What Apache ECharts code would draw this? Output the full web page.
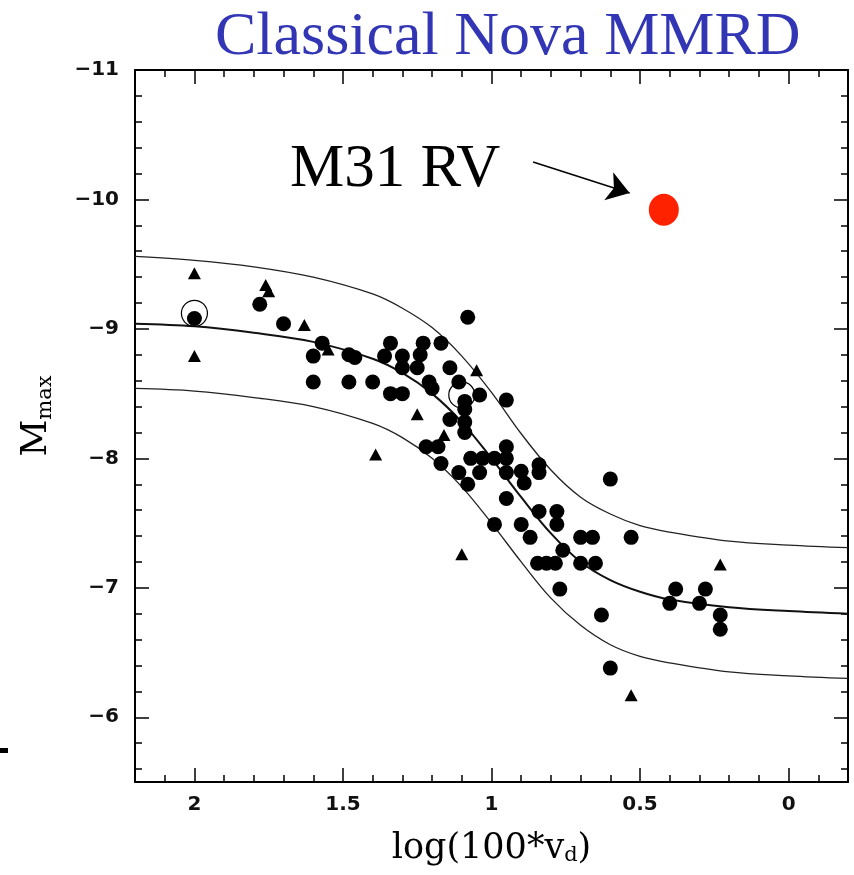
<!DOCTYPE html>
<html><head><meta charset="utf-8">
<script src="https://cdn.jsdelivr.net/npm/echarts@6/dist/echarts.min.js"></script>
<style>html,body{margin:0;padding:0;background:#fff}#c{width:854px;height:875px}</style>
</head><body><div id="c"></div>
<script>
// ---- data ----
const curveX  = [2.2, 2.0, 1.8, 1.6, 1.4, 1.3, 1.2, 1.1, 1.0, 0.9, 0.8, 0.7, 0.6, 0.5, 0.4, 0.2, 0.0, -0.2];
const upperY  = [-9.56,-9.53,-9.48,-9.40,-9.27,-9.16,-9.01,-8.79,-8.51,-8.19,-7.91,-7.70,-7.57,-7.48,-7.43,-7.36,-7.33,-7.31];
const middleY = [-9.04,-9.02,-8.97,-8.90,-8.77,-8.66,-8.50,-8.28,-8.00,-7.70,-7.42,-7.20,-7.06,-6.97,-6.91,-6.85,-6.82,-6.80];
const lowerY  = [-8.54,-8.52,-8.47,-8.40,-8.27,-8.16,-8.00,-7.78,-7.50,-7.20,-6.92,-6.71,-6.56,-6.47,-6.42,-6.35,-6.32,-6.30];

const novaCircles = [
  [2.00,-9.08],[1.78,-9.19],[1.70,-9.04],[1.57,-8.89],[1.60,-8.79],[1.60,-8.59],
  [1.48,-8.80],[1.46,-8.78],[1.48,-8.59],[1.40,-8.59],[1.36,-8.79],[1.34,-8.89],
  [1.30,-8.79],[1.30,-8.70],[1.34,-8.50],[1.30,-8.50],[1.24,-8.80],[1.23,-8.89],
  [1.17,-8.89],[1.25,-8.70],[1.21,-8.59],[1.20,-8.54],[1.14,-8.70],[1.11,-8.59],
  [1.08,-9.09],[1.04,-8.49],[0.95,-8.45],[1.09,-8.44],[1.09,-8.38],[1.14,-8.30],
  [1.09,-8.28],[1.09,-8.20],[1.22,-8.09],[1.18,-8.09],[1.17,-7.96],[1.11,-7.89],
  [1.08,-7.80],[1.07,-8.00],[1.03,-8.00],[0.99,-8.00],[1.04,-7.89],[0.95,-8.09],
  [0.95,-8.00],[0.95,-7.89],[0.90,-7.90],[0.89,-7.81],[0.95,-7.69],[0.84,-7.95],
  [0.84,-7.89],[0.84,-7.59],[0.78,-7.59],[0.78,-7.49],[0.99,-7.49],[0.90,-7.49],
  [0.87,-7.39],[0.76,-7.29],[0.845,-7.19],[0.815,-7.19],[0.785,-7.19],
  [0.70,-7.39],[0.66,-7.39],[0.70,-7.19],[0.65,-7.19],[0.60,-7.84],[0.53,-7.39],
  [0.77,-6.99],[0.63,-6.79],[0.60,-6.38],[0.38,-6.99],[0.28,-6.99],[0.40,-6.88],
  [0.30,-6.88],[0.23,-6.79],[0.23,-6.68]
];
const novaTriangles = [
  [2.00,-9.43],[2.00,-8.79],[1.76,-9.34],[1.75,-9.29],[1.63,-9.03],[1.55,-8.84],
  [1.39,-8.03],[1.25,-8.34],[1.16,-8.18],[1.05,-8.68],[1.10,-7.26],[0.53,-6.17],[0.23,-7.18]
];
const openCircles = [[2.00,-9.12],[1.10,-8.49]];
const m31rv = [[0.42,-9.92]];
const arrowFrom = [0.86,-10.29];
const arrowTo   = [0.535,-10.05];

const xTickValues = [2, 1.5, 1, 0.5, 0];
const xTickLabels = ['2', '1.5', '1', '0.5', '0'];
const yTickValues = [-11, -10, -9, -8, -7, -6];
const yTickLabels = ['\u221211', '\u221210', '\u22129', '\u22128', '\u22127', '\u22126'];

const titleText = 'Classical Nova MMRD';
const annotText = 'M31 RV';

// ---- chart ----
function lookup(vals, labels) {
  return function (v) {
    for (let i = 0; i < vals.length; i++) if (Math.abs(vals[i] - v) < 1e-6) return labels[i];
    return '';
  };
}
const pair = ys => curveX.map((x, i) => [x, ys[i]]);

const tickStyle = { color: '#000', width: 1.5 };
function xAx(pos, main) {
  return {
    type: 'value', position: pos, min: -0.2, max: 2.2, inverse: true,
    minInterval: 0.5, maxInterval: 0.5,
    axisLine: { show: true, onZero: false, lineStyle: { color: '#000', width: 2 } },
    axisTick: { show: true, inside: true, length: 14, lineStyle: tickStyle },
    minorTick: { show: true, splitNumber: 5, length: 7, lineStyle: tickStyle },
    splitLine: { show: false }, minorSplitLine: { show: false },
    axisLabel: main ? { show: true, formatter: lookup(xTickValues, xTickLabels), margin: 13,
      color: '#111', fontFamily: 'DejaVu Sans', fontWeight: 'bold', fontSize: 20,
      showMinLabel: false, showMaxLabel: false } : { show: false },
    name: main ? '{a|log(100*v}{s|d}{a|)}' : '',
    nameLocation: 'middle', nameGap: 47,
    nameTextStyle: { rich: {
      a: { fontFamily: 'DejaVu Serif', fontSize: 35, color: '#000', lineHeight: 40 },
      s: { fontFamily: 'DejaVu Serif', fontSize: 21, color: '#000', lineHeight: 40, padding: [14, 0, 0, 0] }
    } }
  };
}
function yAx(pos, main) {
  return {
    type: 'value', position: pos, min: -11, max: -5.5, inverse: true,
    minInterval: 1, maxInterval: 1,
    axisLine: { show: true, onZero: false, lineStyle: { color: '#000', width: 2 } },
    axisTick: { show: true, inside: true, length: 14, lineStyle: tickStyle },
    minorTick: { show: true, splitNumber: 5, length: 7, lineStyle: tickStyle },
    splitLine: { show: false }, minorSplitLine: { show: false },
    axisLabel: main ? { show: true, formatter: lookup(yTickValues, yTickLabels), margin: 16,
      color: '#111', fontFamily: 'DejaVu Sans', fontWeight: 'bold', fontSize: 20,
      showMinLabel: true, showMaxLabel: false } : { show: false },
    name: main ? '{m|M}{s|max}' : '',
    nameLocation: 'middle', nameGap: 76, nameRotate: 90,
    nameTextStyle: { padding: [0, 0, 0, 20], rich: {
      m: { fontFamily: 'DejaVu Serif', fontSize: 36, color: '#000', lineHeight: 44 },
      s: { fontFamily: 'DejaVu Serif', fontSize: 21, color: '#000', lineHeight: 44, padding: [18, 0, 0, 0] }
    } }
  };
}

const chart = echarts.init(document.getElementById('c'), null, { renderer: 'canvas' });
chart.setOption({
  animation: false,
  backgroundColor: '#fff',
  grid: { left: 135, right: 6, top: 70, bottom: 93, containLabel: false },
  xAxis: [xAx('bottom', true), xAx('top', false)],
  yAxis: [yAx('left', true), yAx('right', false)],
  graphic: [
    { type: 'text', left: 215, top: 7, z: 10,
      style: { text: titleText, font: '62px "Liberation Serif"', fill: '#3236b4' } },
    { type: 'text', left: 290, top: 139, z: 10,
      style: { text: annotText, font: '61px "Liberation Serif"', fill: '#000' } },
    { type: 'rect', left: 0, top: 748, shape: { width: 8, height: 5 }, style: { fill: '#000' } }
  ],
  series: [
    { type: 'line', data: pair(upperY), smooth: 0.35, showSymbol: false, symbol: 'none',
      lineStyle: { color: '#222', width: 1.3 }, z: 2 },
    { type: 'line', data: pair(middleY), smooth: 0.35, showSymbol: false, symbol: 'none',
      lineStyle: { color: '#111', width: 2 }, z: 2 },
    { type: 'line', data: pair(lowerY), smooth: 0.35, showSymbol: false, symbol: 'none',
      lineStyle: { color: '#222', width: 1.3 }, z: 2 },
    { type: 'scatter', data: openCircles, symbol: 'circle', symbolSize: 26,
      itemStyle: { color: 'rgba(0,0,0,0)', borderColor: '#000', borderWidth: 1.2, opacity: 1 }, z: 3 },
    { type: 'scatter', data: novaCircles, symbol: 'circle', symbolSize: 15,
      itemStyle: { color: '#000', opacity: 1 }, z: 4 },
    { type: 'scatter', data: novaTriangles, symbol: 'triangle', symbolSize: [13, 12],
      itemStyle: { color: '#000', opacity: 1 }, z: 4 },
    { type: 'scatter', data: m31rv, symbol: 'circle', symbolSize: [30, 32],
      itemStyle: { color: '#ff2200', opacity: 1 }, z: 5,
      markLine: { silent: true, symbol: ['none', 'arrow'], symbolSize: 22,
        label: { show: false },
        lineStyle: { color: '#000', width: 1.6, type: 'solid', opacity: 1 },
        data: [[{ coord: arrowFrom }, { coord: arrowTo }]] } }
  ]
});
</script></body></html>
